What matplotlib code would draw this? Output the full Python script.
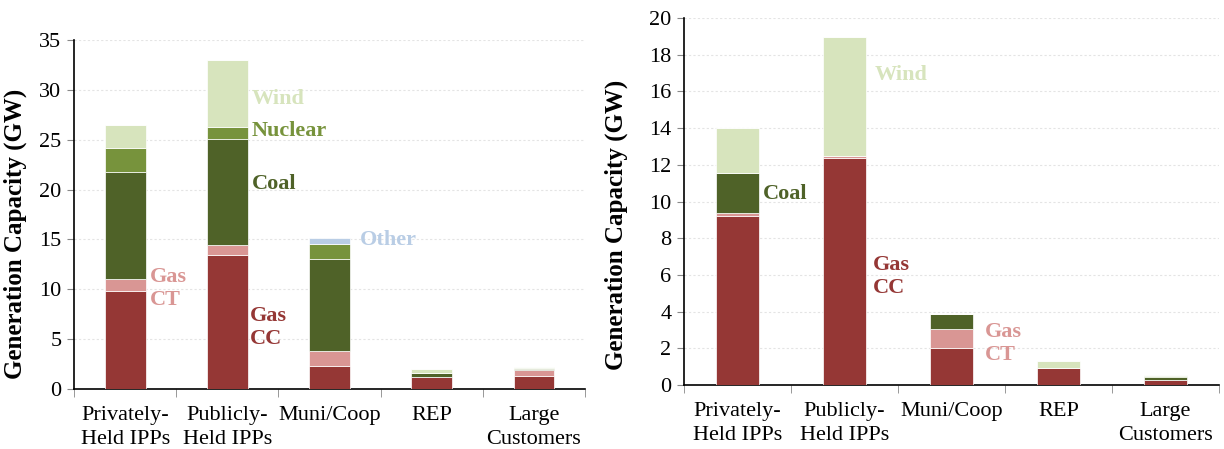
import numpy as np
import matplotlib
matplotlib.use("Agg")
import matplotlib.pyplot as plt

plt.rcParams['font.family'] = ['Liberation Serif', 'DejaVu Serif']

categories = ["Privately-\nHeld IPPs", "Publicly-\nHeld IPPs", "Muni/Coop", "REP", "Large\nCustomers"]
fuels = ["Gas CC", "Gas CT", "Coal", "Nuclear", "Wind", "Other"]
colors = {"Gas CC": "#953735", "Gas CT": "#d99694", "Coal": "#4f6228",
          "Nuclear": "#77933c", "Wind": "#d7e4bd", "Other": "#b9cde5"}

# left panel (GW)
left_cc = [9.8, 13.4, 2.3, 1.2, 1.3]
left_ct = [1.2, 1.0, 1.5, 0.0, 0.6]
left_coal = [10.8, 10.7, 9.2, 0.45, 0.15]
left_nuclear = [2.4, 1.2, 1.5, 0.0, 0.1]
left_wind = [2.3, 6.7, 0.0, 0.35, 0.05]
left_other = [0.0, 0.0, 0.6, 0.0, 0.0]

# right panel (GW)
right_cc = [9.2, 12.35, 2.0, 0.95, 0.25]
right_ct = [0.2, 0.15, 1.05, 0.0, 0.05]
right_coal = [2.15, 0.0, 0.8, 0.0, 0.15]
right_nuclear = [0.0, 0.0, 0.0, 0.0, 0.05]
right_wind = [2.45, 6.45, 0.0, 0.35, 0.07]
right_other = [0.0, 0.0, 0.0, 0.0, 0.0]


def draw_panel(ax, series, ymax, ystep):
    x = np.arange(len(categories))
    bottom = np.zeros(len(categories))
    for name, vals in zip(fuels, series):
        vals = np.array(vals)
        ax.bar(x, vals, width=0.4, bottom=bottom, color=colors[name],
               edgecolor="white", linewidth=0.5, zorder=3)
        bottom += vals
    ax.set_xlim(-0.5, len(categories) - 0.5)
    ax.set_ylim(0, ymax)
    ax.set_yticks(np.arange(0, ymax + 0.01, ystep))
    ax.set_xticks(x)
    ax.set_xticklabels(categories, fontsize=16, linespacing=1.35)
    ax.set_xticks(np.arange(-0.5, len(categories)), minor=True)
    ax.tick_params(axis="x", which="major", length=0, pad=12)
    ax.tick_params(axis="x", which="minor", length=6, color="#888888")
    ax.tick_params(axis="y", labelsize=16, length=5, color="#888888", pad=4)
    ax.spines["top"].set_visible(False)
    ax.spines["right"].set_visible(False)
    ax.spines["left"].set_linewidth(1.2)
    ax.spines["bottom"].set_linewidth(1.2)
    ax.yaxis.grid(True, color="#e4e4e4", linestyle=(0, (2, 2)), linewidth=0.8, zorder=0)
    ax.set_axisbelow(True)
    ax.set_ylabel("Generation Capacity (GW)", fontsize=18, fontweight="bold")


fig = plt.figure(figsize=(12.24, 4.49), dpi=100)
ax1 = fig.add_axes([0.0605, 0.1336, 0.4175, 0.777])
ax2 = fig.add_axes([0.5588, 0.1425, 0.437, 0.8174])

draw_panel(ax1, [left_cc, left_ct, left_coal, left_nuclear, left_wind, left_other], 35, 5)
draw_panel(ax2, [right_cc, right_ct, right_coal, right_nuclear, right_wind, right_other], 20, 2)
ax1.yaxis.set_label_coords(-0.092, 0.445)
ax2.yaxis.set_label_coords(-0.105, 0.436)

lab = dict(fontsize=16, fontweight="bold", va="center", ha="left", linespacing=1.2)
ax1.text(1.24, 29.1, "Wind", color=colors["Wind"], **lab)
ax1.text(1.24, 25.9, "Nuclear", color=colors["Nuclear"], **lab)
ax1.text(1.24, 20.6, "Coal", color=colors["Coal"], **lab)
ax1.text(2.30, 14.9, "Other", color=colors["Other"], **lab)
ax1.text(0.24, 10.1, "Gas\nCT", color=colors["Gas CT"], **lab)
ax1.text(1.22, 6.2, "Gas\nCC", color=colors["Gas CC"], **lab)

ax2.text(1.28, 16.9, "Wind", color=colors["Wind"], **lab)
ax2.text(0.24, 10.4, "Coal", color=colors["Coal"], **lab)
ax2.text(1.27, 5.94, "Gas\nCC", color=colors["Gas CC"], **lab)
ax2.text(2.31, 2.26, "Gas\nCT", color=colors["Gas CT"], **lab)

fig.savefig("out.png", dpi=100)
